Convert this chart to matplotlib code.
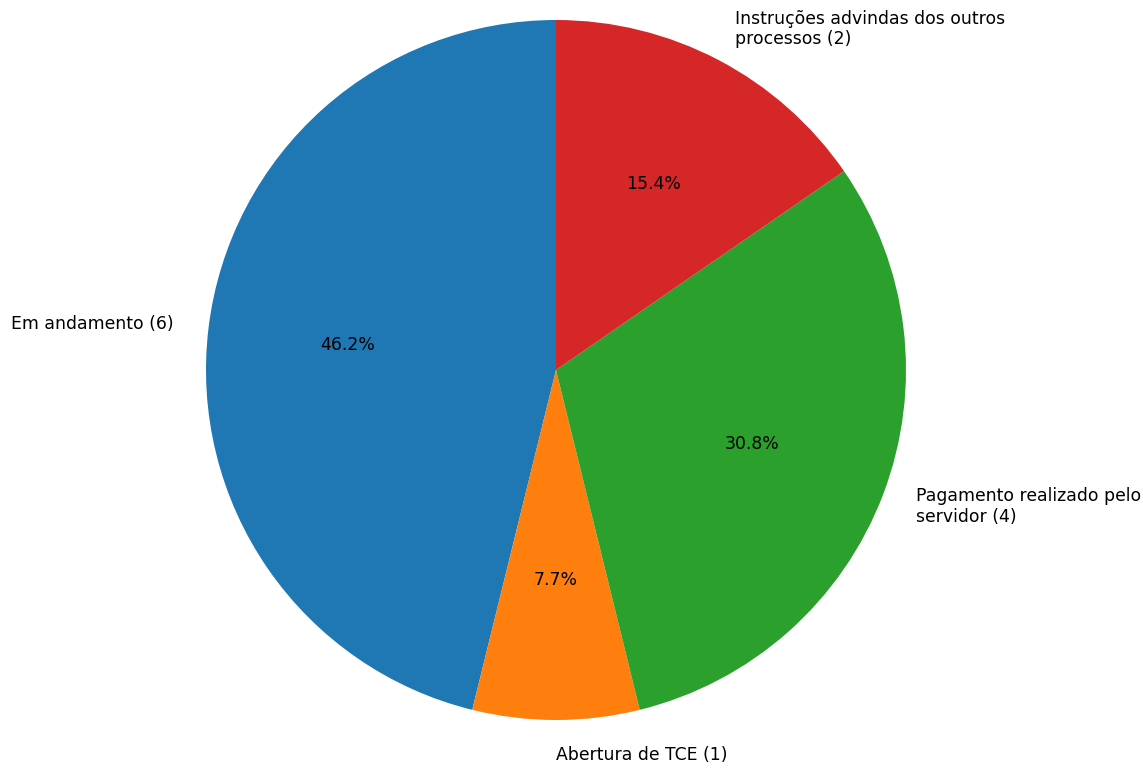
import matplotlib
matplotlib.use("Agg")
import matplotlib.pyplot as plt

rotulos = ["Em andamento (6)", "Abertura de TCE (1)",
           "Pagamento realizado pelo\nservidor (4)",
           "Instruções advindas dos outros\nprocessos (2)"]
valores = [6, 1, 4, 2]
cores = ["#1f77b4", "#ff7f0e", "#2ca02c", "#d62728"]

fig = plt.figure(figsize=(11.43, 7.68), dpi=100)
ax = fig.add_axes([0, 0, 1, 1])
ax.pie(valores, labels=rotulos, colors=cores, autopct="%1.1f%%",
       startangle=90, textprops={"fontsize": 12.4})

# escala: raio ~350 px, centro em (556, 370)
r = 350.0
cx, cy = 556.0, 370.0
ax.set_xlim(-cx / r, (1143 - cx) / r)
ax.set_ylim(-(768 - cy) / r, cy / r)
ax.set_aspect("equal")
ax.axis("off")

fig.savefig("out.png", dpi=100)
